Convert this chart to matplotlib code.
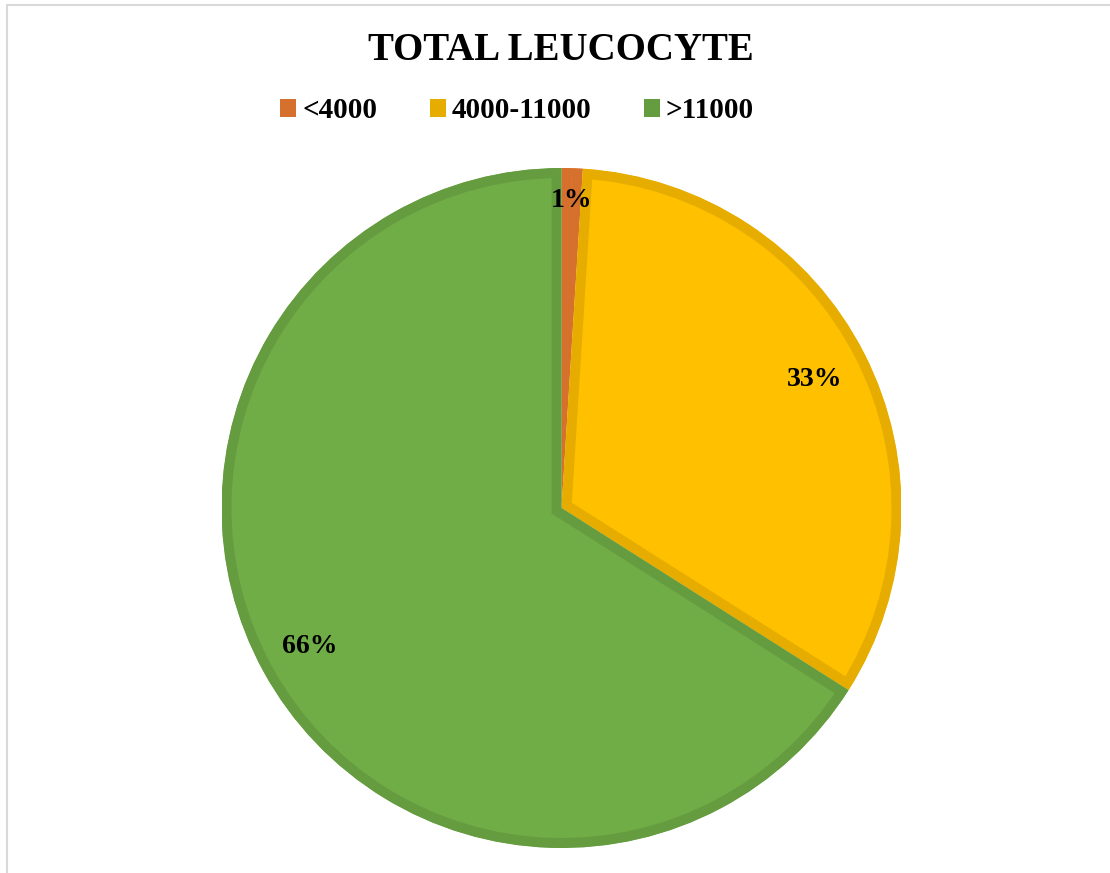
import matplotlib.pyplot as plt
import numpy as np
from matplotlib.patches import Patch, Rectangle

categories = ["<4000", "4000-11000", ">11000"]
shares = [1, 33, 66]
fill_colors = ["#ED7D31", "#FFC000", "#70AD47"]
edge_colors = ["#D5712C", "#E6AD00", "#659C40"]
label_radius = [0.905, 0.835, 0.845]

plt.rcParams["font.family"] = ["Liberation Serif", "DejaVu Serif"]
plt.rcParams["font.weight"] = "bold"

W, H = 1110, 873
fig = plt.figure(figsize=(W / 100, H / 100), dpi=100)

# light chart-area border (runs off the right and bottom edges)
fig.patches.append(Rectangle((7 / W, -0.05), 1.1, 1.05 - 5 / H,
                             transform=fig.transFigure, fill=False,
                             edgecolor="#D9D9D9", linewidth=1.5))

cx, cy, r = 561.5, 873 - 508, 340
ax = fig.add_axes([(cx - r) / W, (cy - r) / H, 2 * r / W, 2 * r / H])

wedges, _ = ax.pie(shares, colors=fill_colors, startangle=90,
                   counterclock=False, radius=1.0)
for w, ec in zip(wedges, edge_colors):
    # inner stroke: double width, clipped to the wedge itself
    w.set_edgecolor(ec)
    w.set_linewidth(14.4)
    w.set_clip_on(True)
    w.set_clip_path(w)

for w, v, rr in zip(wedges, shares, label_radius):
    mid = np.deg2rad((w.theta1 + w.theta2) / 2)
    ax.text(rr * np.cos(mid), rr * np.sin(mid), f"{v:.0f}%",
            ha="center", va="center", fontsize=20, fontweight="bold")

ax.set_xlim(-1, 1)
ax.set_ylim(-1, 1)
ax.axis("off")

fig.text(561 / W, 1 - 50 / H, "TOTAL LEUCOCYTE", ha="center", va="center",
         fontsize=28, fontweight="bold")

handles = [Patch(facecolor=c, edgecolor="none") for c in edge_colors]
fig.legend(handles, categories, loc="center", bbox_to_anchor=(517 / W, 1 - 111 / H),
           ncol=3, frameon=False, fontsize=21, handlelength=0.55,
           handleheight=0.55, handletextpad=0.2, columnspacing=1.8)

fig.savefig("out.png", dpi=100, facecolor="white")
